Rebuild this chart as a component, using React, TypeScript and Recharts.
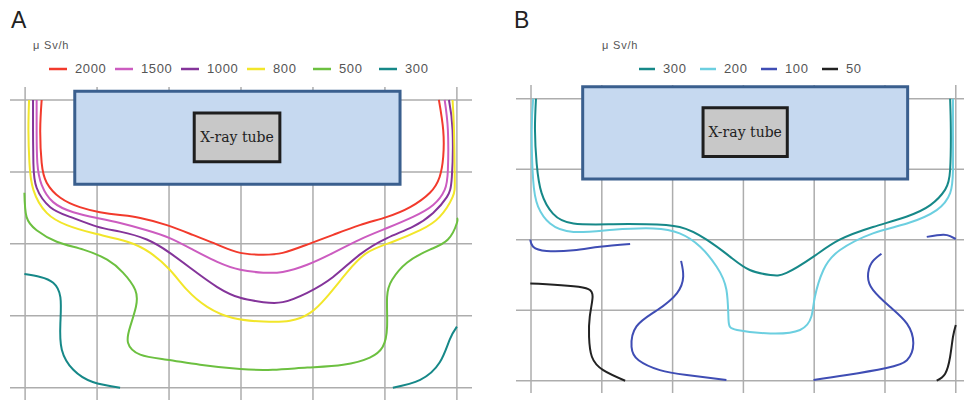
import React from "react";
import { ComposedChart, Line, XAxis, YAxis, CartesianGrid, ReferenceArea, Legend } from "recharts";

type P = [number, number];

// grid positions (grid units)
const gridX = [0, 1, 2, 3, 4, 5, 6];
const gridY = [0, 1, 2, 3, 4];

// ---- Panel A contours (x, y in grid cells; y downward) ----
const a2000: P[] = [[0.23,0],[0.21,0.42],[0.23,0.875],[0.30,1.15],[0.49,1.36],[0.76,1.49],[1.04,1.56],[1.32,1.60],[1.60,1.64],[1.97,1.74],[2.33,1.875],[2.67,2.01],[2.99,2.125],[3.31,2.15],[3.58,2.125],[3.92,2.01],[4.28,1.875],[4.65,1.74],[5.03,1.625],[5.35,1.49],[5.625,1.29],[5.76,1.07],[5.81,0.79],[5.81,0.42],[5.75,0]];
const a1500: P[] = [[0.16,0],[0.16,0.42],[0.17,0.875],[0.23,1.18],[0.39,1.42],[0.67,1.56],[1.0,1.64],[1.32,1.71],[1.69,1.81],[2.01,1.92],[2.33,2.08],[2.67,2.25],[2.99,2.36],[3.31,2.40],[3.58,2.39],[3.92,2.29],[4.28,2.125],[4.65,1.94],[5.03,1.78],[5.39,1.625],[5.67,1.46],[5.83,1.25],[5.875,0.97],[5.875,0.42],[5.83,0]];
const a1000: P[] = [[0.11,0],[0.11,0.42],[0.115,0.875],[0.16,1.22],[0.35,1.49],[0.625,1.625],[1.0,1.76],[1.32,1.83],[1.69,1.94],[2.01,2.125],[2.33,2.36],[2.67,2.60],[2.99,2.75],[3.31,2.81],[3.58,2.81],[3.92,2.68],[4.28,2.46],[4.65,2.15],[5.03,1.92],[5.39,1.76],[5.67,1.57],[5.86,1.35],[5.93,1.07],[5.94,0.42],[5.89,0]];
const a800: P[] = [[0.055,0],[0.046,0.42],[0.06,0.875],[0.115,1.25],[0.30,1.57],[0.58,1.74],[0.94,1.85],[1.42,1.97],[1.74,2.125],[2.01,2.36],[2.25,2.64],[2.53,2.875],[2.89,3.03],[3.31,3.08],[3.68,3.07],[3.96,2.96],[4.19,2.74],[4.47,2.40],[4.75,2.125],[5.11,1.97],[5.49,1.81],[5.76,1.625],[5.94,1.35],[5.97,1.07],[5.96,0.42],[5.94,0]];
const a500: P[] = [[-0.01,1.29],[0.02,1.625],[0.16,1.81],[0.44,1.97],[0.81,2.08],[1.14,2.22],[1.36,2.40],[1.53,2.64],[1.54,2.875],[1.46,3.15],[1.43,3.375],[1.60,3.54],[1.97,3.61],[2.43,3.68],[2.99,3.74],[3.44,3.75],[3.92,3.72],[4.42,3.68],[4.79,3.58],[4.97,3.43],[5.03,3.15],[5.03,2.74],[5.10,2.5],[5.31,2.26],[5.625,2.08],[5.875,1.94],[6.0,1.71],[6.0,1.64]];
const a300L: P[] = [[-0.01,2.42],[0.21,2.46],[0.39,2.54],[0.49,2.74],[0.49,3.10],[0.51,3.47],[0.67,3.75],[0.94,3.92],[1.32,4.0]];
const a300R: P[] = [[5.11,4.0],[5.49,3.89],[5.76,3.65],[5.90,3.33],[6.0,3.15]];

// ---- Panel B contours ----
const b300: P[] = [[0.07,0],[0.056,0.44],[0.08,0.92],[0.15,1.34],[0.31,1.63],[0.60,1.77],[1.16,1.78],[1.63,1.78],[2.10,1.82],[2.48,2.0],[2.81,2.24],[3.09,2.43],[3.38,2.50],[3.61,2.47],[3.99,2.24],[4.36,2.0],[4.83,1.82],[5.31,1.67],[5.64,1.51],[5.85,1.29],[5.92,1.01],[5.93,0.44],[5.92,0]];
const b200: P[] = [[0.03,0],[0.01,0.44],[0.03,1.15],[0.10,1.53],[0.27,1.77],[0.60,1.89],[1.16,1.86],[1.73,1.84],[2.10,1.91],[2.39,2.10],[2.62,2.38],[2.76,2.71],[2.79,3.14],[2.91,3.28],[3.38,3.33],[3.80,3.28],[3.96,3.09],[4.01,2.81],[4.13,2.43],[4.36,2.15],[4.83,1.91],[5.31,1.77],[5.73,1.58],[5.92,1.34],[5.96,1.01],[5.96,0.44],[5.96,0]];
const b100a: P[] = [[-0.01,2.0],[0.03,2.10],[0.22,2.16],[0.60,2.15],[0.97,2.10],[1.40,2.06]];
const b100b: P[] = [[2.12,2.30],[2.15,2.52],[2.06,2.76],[1.78,3.0],[1.49,3.23],[1.42,3.52],[1.52,3.71],[1.82,3.85],[2.20,3.92],[2.76,3.99]];
const b100c: P[] = [[3.99,3.99],[4.46,3.92],[5.02,3.82],[5.31,3.71],[5.40,3.47],[5.31,3.19],[5.07,2.95],[4.83,2.71],[4.76,2.52],[4.81,2.33],[4.95,2.20]];
const b100d: P[] = [[5.59,1.96],[5.82,1.93],[5.92,1.95],[6.0,1.99]];
const b50a: P[] = [[-0.01,2.62],[0.22,2.63],[0.60,2.66],[0.81,2.70],[0.87,2.81],[0.83,3.09],[0.82,3.38],[0.86,3.66],[1.02,3.85],[1.33,4.0]];
const b50b: P[] = [[5.73,4.0],[5.85,3.90],[5.92,3.66],[5.96,3.38],[6.0,3.21]];

// tube rectangles [x1, x2, y1, y2]
const shieldA = [0.69, 5.21, -0.12, 1.17];
const tubeA = [2.35, 3.54, 0.18, 0.86];
const shieldB = [0.73, 5.32, -0.17, 1.14];
const tubeB = [2.43, 3.62, 0.13, 0.82];

const toPts = (a: P[]) => a.map(([x, y]) => ({ x, y }));

type Series = { name: string; color: string; parts: P[][] };

const seriesA: Series[] = [
  { name: "2000", color: "#f23a2c", parts: [a2000] },
  { name: "1500", color: "#cc5cc0", parts: [a1500] },
  { name: "1000", color: "#84349a", parts: [a1000] },
  { name: "800", color: "#f2e62a", parts: [a800] },
  { name: "500", color: "#6cc040", parts: [a500] },
  { name: "300", color: "#168888", parts: [a300L, a300R] },
];
const seriesB: Series[] = [
  { name: "300", color: "#168888", parts: [b300] },
  { name: "200", color: "#6ccfe0", parts: [b200] },
  { name: "100", color: "#3f4db4", parts: [b100a, b100b, b100c, b100d] },
  { name: "50", color: "#222222", parts: [b50a, b50b] },
];

const applyScale = (axis: any, v: number): number => {
  const s = axis && axis.scale;
  if (!s) return NaN;
  if (typeof s === "function") return s(v);
  if (typeof s.map === "function") return s.map(v);
  return NaN;
};

const legendContent = (order: string[], itemW: number, iconW: number) => (props: any) => {
  const seen = new Set<string>();
  const items = (props.payload || []).filter((p: any) => {
    if (p.type === "none" || seen.has(p.value)) return false;
    seen.add(p.value);
    return true;
  });
  items.sort((a: any, b: any) => order.indexOf(a.value) - order.indexOf(b.value));
  return (
    <div style={{ display: "flex", alignItems: "center", height: 16 }}>
      {items.map((p: any, i: number) => (
        <div key={i} style={{ width: itemW, display: "flex", alignItems: "center", flex: "none" }}>
          <svg width={iconW} height={4} style={{ display: "block" }}>
            <line x1={0} x2={iconW} y1={2} y2={2} stroke={p.color} strokeWidth={2.5} />
          </svg>
          <span style={{ marginLeft: 8, fontFamily: "'Liberation Sans Narrow', 'Liberation Sans', sans-serif", fontSize: 13, letterSpacing: 0.6, color: "#555", lineHeight: "16px" }}>
            {p.value}
          </span>
        </div>
      ))}
    </div>
  );
};

function Panel(props: {
  series: Series[];
  xDomain: [number, number];
  yDomain: [number, number];
  margin: { top: number; right: number; bottom: number; left: number };
  shield: number[];
  tube: number[];
  legendPos: { top: number; left: number };
  itemW: number;
  iconW: number;
}) {
  const { series, xDomain, yDomain, margin, shield, tube } = props;
  const order = series.map((s) => s.name);
  return (
    <ComposedChart width={482} height={402} margin={margin}>
      <CartesianGrid
        stroke="#adadad"
        strokeWidth={1.5}
        horizontalCoordinatesGenerator={(p: any) => gridY.map((v) => applyScale(p.yAxis, v))}
        verticalCoordinatesGenerator={(p: any) => gridX.map((v) => applyScale(p.xAxis, v))}
      />
      <XAxis type="number" dataKey="x" domain={xDomain} ticks={gridX} interval={0} hide allowDataOverflow />
      <YAxis type="number" dataKey="y" domain={yDomain} ticks={gridY} interval={0} reversed hide allowDataOverflow />
      <Legend
        layout="horizontal"
        verticalAlign="middle"
        align="center"
        wrapperStyle={{ top: props.legendPos.top, left: props.legendPos.left, width: 440, height: 16 }}
        content={legendContent(order, props.itemW, props.iconW)}
      />
      <ReferenceArea x1={shield[0]} x2={shield[1]} y1={shield[2]} y2={shield[3]} fill="#c6d9f0" fillOpacity={1} stroke="#3a5f8e" strokeWidth={3} />
      <ReferenceArea
        x1={tube[0]} x2={tube[1]} y1={tube[2]} y2={tube[3]}
        fill="#c8c8c8" fillOpacity={1} stroke="#1e1e1e" strokeWidth={3}
        label={{ value: "X-ray tube", position: "center", fill: "#222", fontSize: 14, fontFamily: "'DejaVu Serif', serif" }}
      />
      {series.flatMap((s) =>
        s.parts.map((part, j) => (
          <Line
            key={s.name + "-" + j}
            data={toPts(part)}
            dataKey="y"
            name={s.name}
            type="natural"
            stroke={s.color}
            strokeWidth={2}
            dot={false}
            activeDot={false}
            legendType={j === 0 ? "plainline" : "none"}
            isAnimationActive={false}
          />
        ))
      )}
    </ComposedChart>
  );
}

const labelStyle: React.CSSProperties = {
  position: "absolute",
  fontFamily: "'Liberation Sans', Arial, sans-serif",
  fontSize: 23,
  lineHeight: 1,
  color: "#222",
};
const unitStyle: React.CSSProperties = {
  position: "absolute",
  fontFamily: "'Liberation Sans Narrow', 'Liberation Sans', sans-serif",
  fontSize: 11,
  lineHeight: 1,
  color: "#555",
  letterSpacing: 0.8,
};

export default function App() {
  return (
    <div style={{ position: "absolute", left: 0, top: 0, width: 964, height: 402, background: "#fff", overflow: "hidden" }}>
      <div style={{ position: "absolute", left: 0, top: 0 }}>
        <Panel
          series={seriesA}
          xDomain={[-0.21, 6.21]}
          yDomain={[-0.18, 4.17]}
          margin={{ top: 87, right: 10, bottom: 2, left: 10 }}
          shield={shieldA}
          tube={tubeA}
          legendPos={{ top: 61, left: 49 }}
          itemW={66}
          iconW={18}
        />
      </div>
      <div style={{ position: "absolute", left: 482, top: 0 }}>
        <Panel
          series={seriesB}
          xDomain={[-0.212, 6.116]}
          yDomain={[-0.194, 4.174]}
          margin={{ top: 85, right: 0, bottom: 9, left: 34 }}
          shield={shieldB}
          tube={tubeB}
          legendPos={{ top: 61, left: 157 }}
          itemW={61}
          iconW={16}
        />
      </div>
      <div style={{ ...labelStyle, left: 11, top: 9 }}>A</div>
      <div style={{ ...labelStyle, left: 514, top: 9 }}>B</div>
      <div style={{ ...unitStyle, left: 33, top: 40 }}>μ Sv/h</div>
      <div style={{ ...unitStyle, left: 602, top: 40 }}>μ Sv/h</div>
    </div>
  );
}
